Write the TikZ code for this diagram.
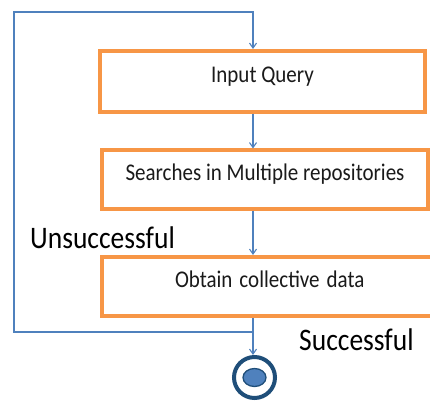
\documentclass[tikz,border=0pt]{standalone}
\usepackage{fontspec}
\usepackage{graphicx}
\setmainfont{Carlito}
\usetikzlibrary{arrows.meta,shapes.geometric}
\definecolor{boxorange}{HTML}{F79646}
\definecolor{flowblue}{HTML}{4F81BD}
\definecolor{ringnavy}{HTML}{1F4E79}
\definecolor{txtdark}{HTML}{1A1A1A}
% slightly tall lettering
\newcommand{\talltext}[1]{\scalebox{1}[1.14]{#1}}
\tikzset{
  stepbox/.style={draw=boxorange, line width=4pt, fill=white, inner sep=0pt,
    text=txtdark, font=\fontsize{21}{25}\selectfont,
    text height=12pt, text depth=10pt},
  flow/.style={draw=flowblue, line width=1.2pt},
  flowarrow/.style={flow, -{Straight Barb[length=5pt,width=7pt,line width=1.1pt]}},
  branchlabel/.style={anchor=base west, inner sep=0pt, text=black,
    font=\fontsize{27.5}{32}\selectfont},
}
\begin{document}
\begin{tikzpicture}[x=1pt, y=-1pt]
  \useasboundingbox (0,0) rectangle (430,403);
  \clip (0,0) rectangle (430,403);

  % vertical axis of the flow and the corners of the return loop
  \coordinate (spine) at (253,0);
  \coordinate (join) at (253,332);
  \coordinate (loopbl) at (14,332);
  \coordinate (looptl) at (14,12);
  \coordinate (looptr) at (253,12);

  % process steps
  \node[stepbox, minimum width=325pt, minimum height=61pt] (query) at (262.5,81.5) {\talltext{Input Query}};
  \node[stepbox, minimum width=326pt, minimum height=58pt] (search) at (265,179.5) {\talltext{Searches in Multiple repositories}};
  \node[stepbox, minimum width=334pt, minimum height=59pt, text width=334pt, align=left] (obtain) at (269,286.5) {\hspace*{73pt}\talltext{Obtain collective data}};

  % final state
  \node[circle, draw=ringnavy, line width=4pt, minimum size=41pt, inner sep=0pt] (final) at (254.5,377.5) {};
  \node[ellipse, draw=ringnavy, fill=flowblue, line width=1.3pt, minimum width=23pt, minimum height=18pt, inner sep=0pt] (finalcore) at (final.center) {};

  % main flow
  \draw[flowarrow] (query.south -| spine) -- (search.north -| spine);
  \draw[flowarrow] (search.south -| spine) -- (obtain.north -| spine);
  \draw[flowarrow] (obtain.south -| spine) -- (final.north -| spine);

  % return loop for an unsuccessful search
  \draw[flowarrow] (join) -- (loopbl) -- (looptl) -- (looptr) -- (query.north -| spine);

  % branch labels
  \node[branchlabel] (unsucc) at (30,248) {\talltext{Unsuccessful}};
  \node[branchlabel] (succ) at (299,350) {\talltext{Successful}};
\end{tikzpicture}
\end{document}
